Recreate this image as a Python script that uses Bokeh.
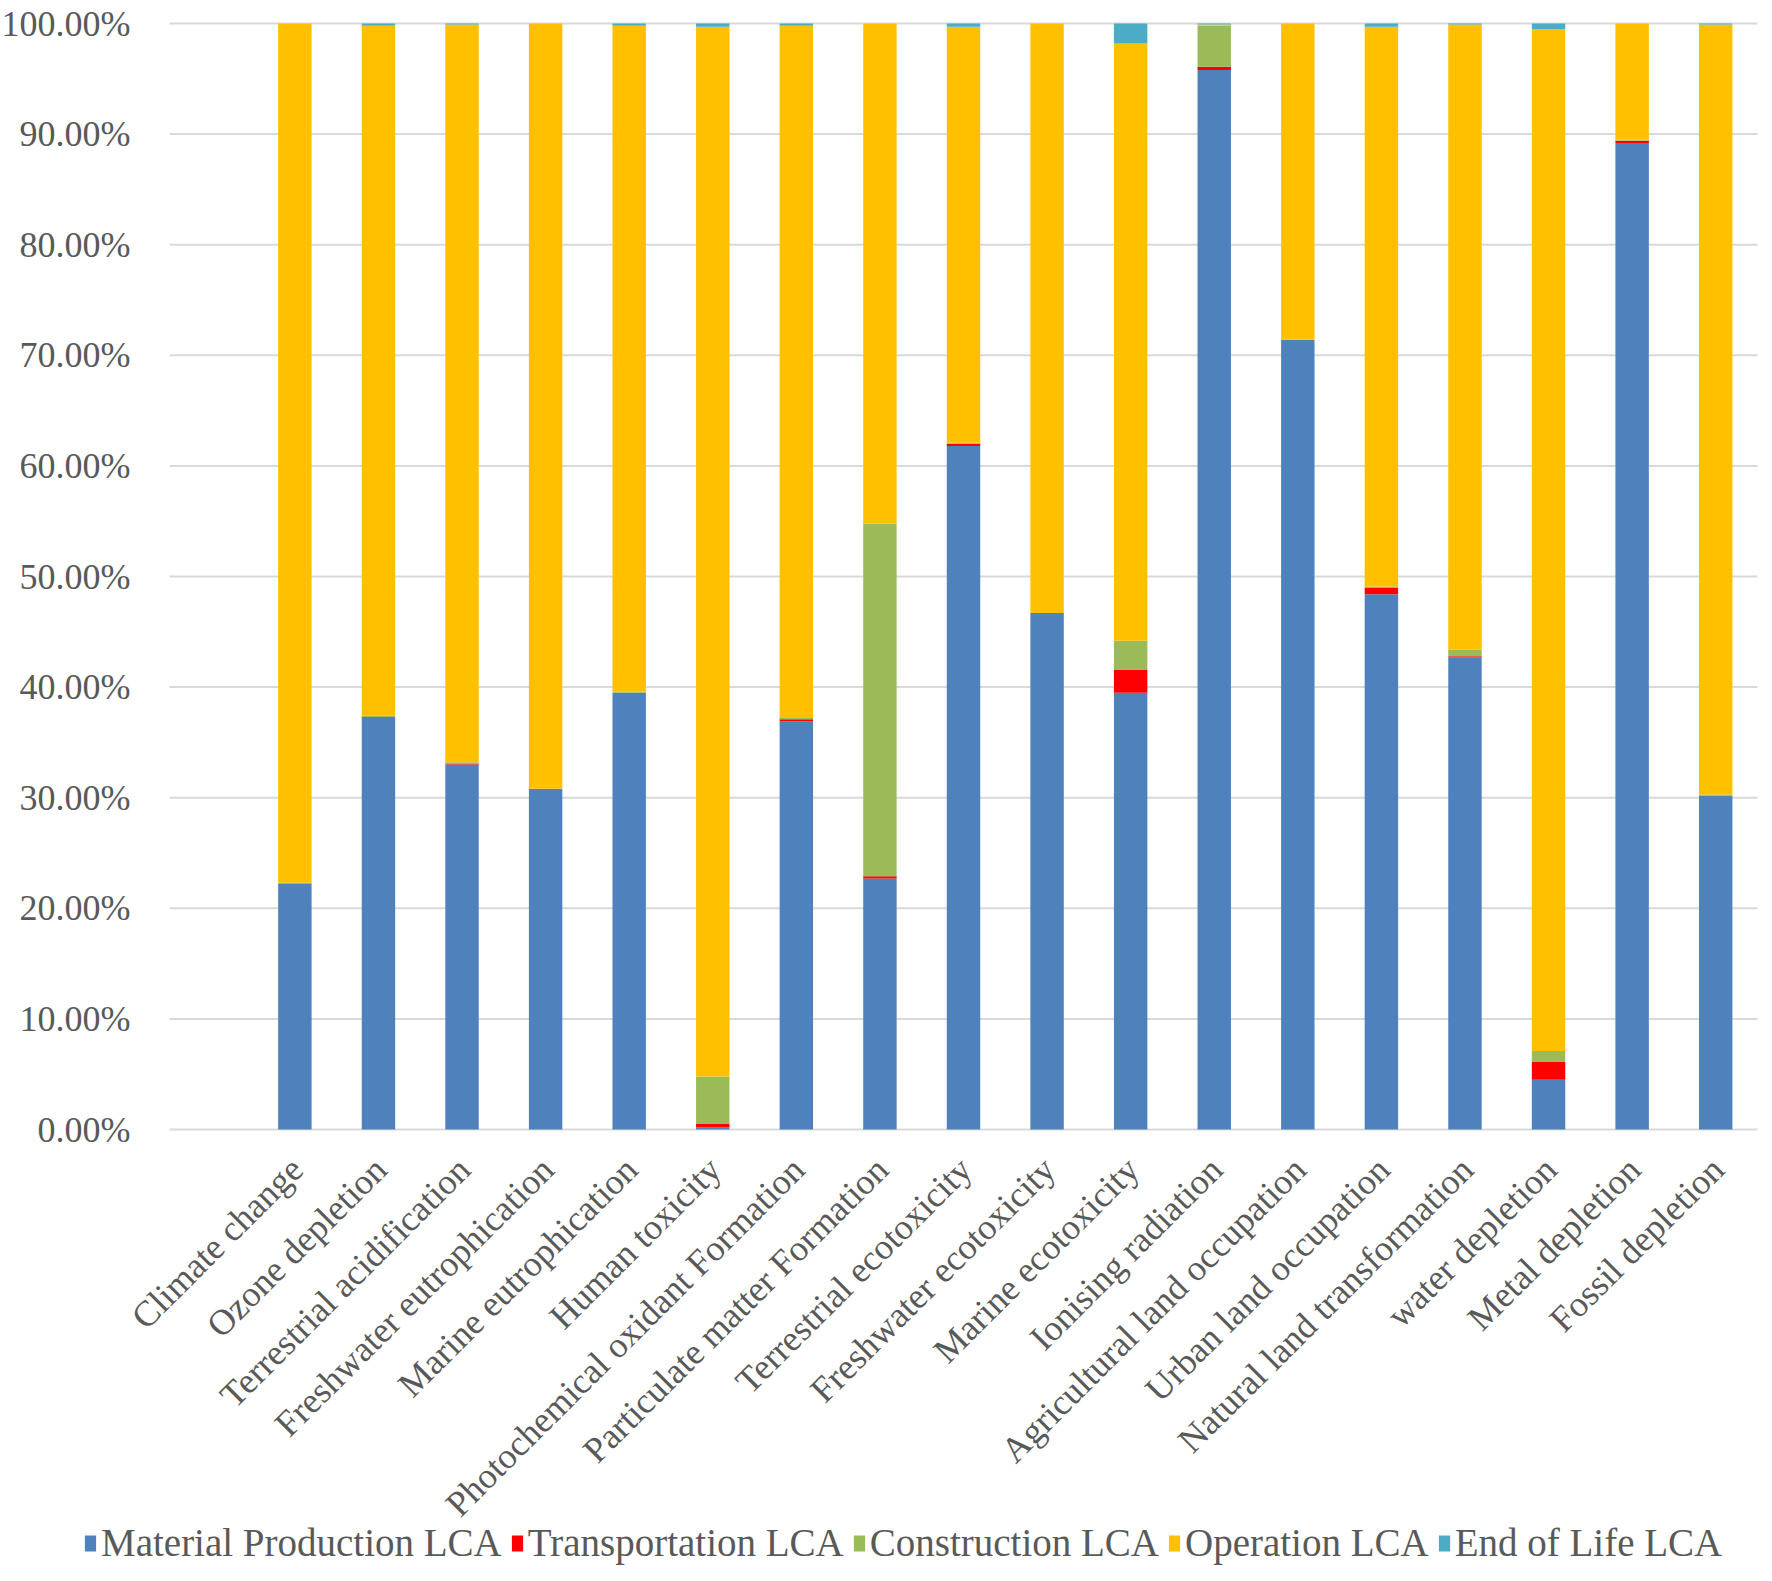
import math
from bokeh.plotting import figure
from bokeh.models import ColumnDataSource, Range1d, Legend, LegendItem
from bokeh.core.properties import value
from bokeh.embed import file_html
from bokeh.resources import INLINE

categories = ["Climate change", "Ozone depletion", "Terrestrial acidification",
              "Freshwater eutrophication", "Marine eutrophication", "Human toxicity",
              "Photochemical oxidant Formation", "Particulate matter Formation",
              "Terrestrial ecotoxicity", "Freshwater ecotoxicity", "Marine ecotoxicity",
              "Ionising radiation", "Agricultural land occupation", "Urban land occupation",
              "Natural land transformation", "water depletion", "Metal depletion",
              "Fossil depletion"]

material = [22.2, 37.3, 33.0, 30.8, 39.5, 0.2, 36.9, 22.7, 61.8, 46.7, 39.5, 95.8, 71.4, 48.4, 42.7, 4.5, 89.2, 30.2]
transport = [0.0, 0.0, 0.1, 0.0, 0.0, 0.3, 0.2, 0.2, 0.2, 0.0, 2.1, 0.3, 0.0, 0.6, 0.1, 1.6, 0.2, 0.0]
construction = [0.1, 0.1, 0.1, 0.0, 0.1, 4.3, 0.1, 31.9, 0.1, 0.0, 2.6, 3.7, 0.0, 0.1, 0.6, 1.0, 0.1, 0.1]
operation = [77.7, 62.4, 66.7, 69.2, 60.2, 94.9, 62.6, 45.2, 37.6, 53.3, 54.0, 0.1, 28.6, 50.6, 56.5, 92.4, 10.5, 69.6]
end_of_life = [0.0, 0.2, 0.1, 0.0, 0.2, 0.3, 0.2, 0.0, 0.3, 0.0, 1.8, 0.1, 0.0, 0.3, 0.1, 0.5, 0.0, 0.1]

series = ["Material Production LCA", "Transportation LCA", "Construction LCA", "Operation LCA", "End of Life LCA"]
colors = ["#4F81BD", "#FF0000", "#9BBB59", "#FFC000", "#4BACC6"]
y_ticks = [0, 10, 20, 30, 40, 50, 60, 70, 80, 90, 100]
y_tick_labels = [f"{v:.2f}%" for v in y_ticks]

n = len(categories)
xs = list(range(n))
source = ColumnDataSource(dict(x=xs, m=material, t=transport, c=construction, o=operation, e=end_of_life))
label_source = ColumnDataSource(dict(x=xs, y=[0] * n, text=categories))

FONT = "Liberation Serif"
TXT = "#595959"
GRID = "#D9D9D9"

# pixel layout of the plot area inside the canvas
W, H = 1760, 1565
LEFT, RIGHT, TOP = 169, 3, 23
PLOT_H = 1106
x_lo, x_hi = -1.5, n - 0.5          # one empty category slot before the first bar
slot = (W - LEFT - RIGHT) / (x_hi - x_lo)
x_start = x_lo - LEFT / slot
x_end = x_hi + RIGHT / slot
y_end = 100 + 100.0 * TOP / PLOT_H
y_start = -100.0 * (H - TOP - PLOT_H) / PLOT_H

p = figure(width=W, height=H, output_backend="svg", toolbar_location=None,
           x_axis_location=None, y_axis_location=None,
           x_range=Range1d(x_start, x_end), y_range=Range1d(y_start, y_end),
           min_border=0)
p.outline_line_color = None
p.grid.visible = False

# horizontal gridlines across the plot area
p.segment(x0=[x_lo] * len(y_ticks), x1=[x_hi] * len(y_ticks), y0=y_ticks, y1=y_ticks,
          line_color=GRID, line_width=2)

renderers = p.vbar_stack(["m", "t", "c", "o", "e"], x="x", width=0.4, source=source,
                         color=colors, line_color=None)

# y tick labels
p.text(x=[x_lo] * len(y_ticks), y=y_ticks, text=y_tick_labels, x_offset=-39,
       text_align="right", text_baseline="middle",
       text_font=value(FONT), text_font_size="36px", text_color=TXT)

# category labels (rotated), hung under the 0 % line
p.text(x="x", y="y", text="text", source=label_source, angle=math.pi / 4,
       text_align="right", text_baseline="middle", x_offset=2, y_offset=34,
       text_font=value(FONT), text_font_size="36px", text_color=TXT)

legend = Legend(items=[LegendItem(label=s, renderers=[r]) for s, r in zip(series, renderers)],
                orientation="horizontal", location=(83, 0))
legend.label_text_font = FONT
legend.label_text_font_size = "39px"
legend.label_text_color = TXT
legend.glyph_width = 14
legend.glyph_height = 20
legend.label_standoff = 4
legend.spacing = 8
legend.padding = 0
legend.margin = 0
legend.border_line_color = None
legend.background_fill_alpha = 0
p.add_layout(legend, "center")

open("out.html", "w").write(file_html(p, INLINE))
